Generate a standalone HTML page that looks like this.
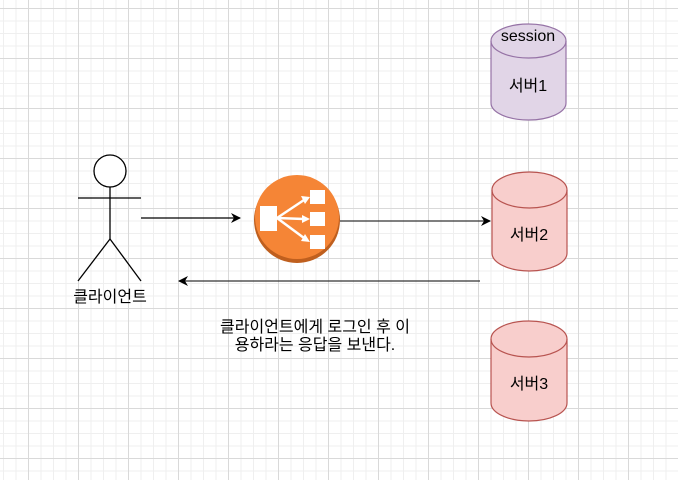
<!DOCTYPE html>
<html><head><meta charset="utf-8"><style>
html,body{margin:0;padding:0;}
body{width:678px;height:480px;overflow:hidden;background:#fff;
background-image:
linear-gradient(to right,#d9d9d9 1px,transparent 1px),
linear-gradient(to bottom,#d9d9d9 1px,transparent 1px),
linear-gradient(to right,#efefef 1px,transparent 1px),
linear-gradient(to bottom,#efefef 1px,transparent 1px);
background-size:50px 50px,50px 50px,12.5px 12.5px,12.5px 12.5px;
background-position:28px 58px,28px 58px,3px 8px,3px 8px;}
svg{position:absolute;left:0;top:0;}
text{font-family:"Liberation Sans","Noto Sans CJK KR",sans-serif;font-size:16px;fill:#000;}
</style></head><body>
<svg width="678" height="480" viewBox="0 0 678 480">
<defs>
<marker id="a" markerWidth="10" markerHeight="10" refX="9" refY="5" orient="auto" markerUnits="userSpaceOnUse">
<path d="M0,0 L10,5 L0,10 L3,5 Z" fill="#000"/></marker>
</defs>
<g stroke="#000" stroke-width="1.3" fill="#fff">
<circle cx="110" cy="171" r="16"/>
<line x1="110" y1="187" x2="110" y2="239"/>
<line x1="78" y1="198" x2="141" y2="198"/>
<line x1="110" y1="239" x2="78" y2="281"/>
<line x1="110" y1="239" x2="141" y2="281"/>
</g>
<text x="110" y="302" text-anchor="middle">클라이언트</text>
<line x1="141" y1="218" x2="240" y2="218" stroke="#000" stroke-width="1.3" marker-end="url(#a)"/>
<line x1="340" y1="221" x2="490" y2="221" stroke="#333" stroke-width="1.3" marker-end="url(#a)"/>
<line x1="480" y1="281" x2="179" y2="281" stroke="#333" stroke-width="1.3" marker-end="url(#a)"/>
<circle cx="297" cy="220" r="43" fill="#bf5f1e"/>
<circle cx="297" cy="217" r="42" fill="#f58536"/>
<g fill="#fff">
<rect x="260" y="206" width="17" height="25"/>
<rect x="310" y="190" width="15" height="14"/>
<rect x="310" y="212" width="15" height="14"/>
<rect x="310" y="235" width="15" height="14"/>
</g>
<g stroke="#fff" stroke-width="2.5">
<line x1="277" y1="218" x2="304" y2="200"/>
<line x1="277" y1="218" x2="304" y2="219"/>
<line x1="277" y1="218" x2="304" y2="238"/>
</g>
<g fill="#fff"><path d="M310,197 L301,196 L305,204 Z"/><path d="M310,219 L302,215 L302,223 Z"/><path d="M310,242 L301,241 L305,234 Z"/></g>
<g stroke="#9673a6" stroke-width="1.2" fill="#e1d5e7">
<path d="M491,41 A37.5,17 0 0 1 566,41 L566,103 A37.5,17 0 0 1 491,103 Z"/>
<path d="M491,41 A37.5,17 0 0 0 566,41" fill="none"/>
</g>
<text x="528" y="41" text-anchor="middle">session</text>
<text x="528" y="91" text-anchor="middle">서버1</text>
<g stroke="#b85450" stroke-width="1.2" fill="#f8cecc">
<path d="M492,190 A37.5,18 0 0 1 567,190 L567,253 A37.5,18 0 0 1 492,253 Z"/>
<path d="M492,190 A37.5,18 0 0 0 567,190" fill="none"/>
<path d="M491,339 A38,18 0 0 1 567,339 L567,403 A38,18 0 0 1 491,403 Z"/>
<path d="M491,339 A38,18 0 0 0 567,339" fill="none"/>
</g>
<text x="529" y="240" text-anchor="middle">서버2</text>
<text x="529" y="389" text-anchor="middle">서버3</text>
<text x="315" y="332" text-anchor="middle">클라이언트에게 로그인 후 이</text>
<text x="315" y="350" text-anchor="middle">용하라는 응답을 보낸다.</text>
</svg>
</body></html>
